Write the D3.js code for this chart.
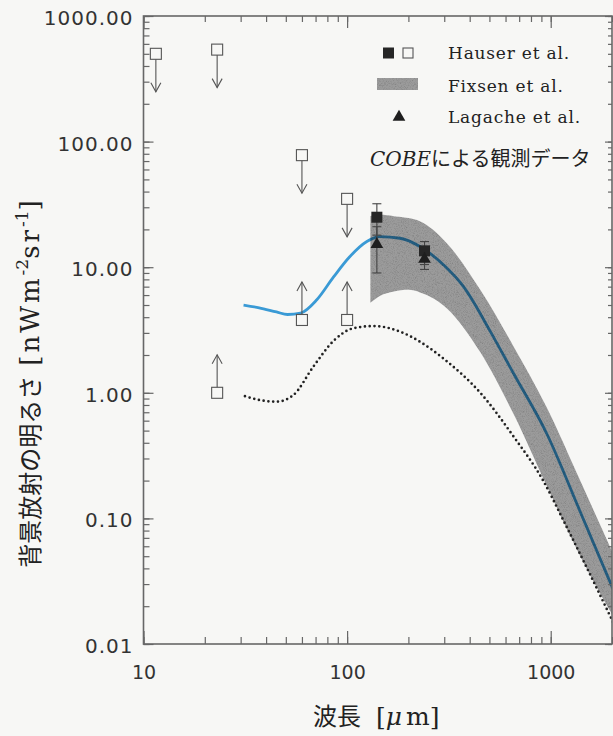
<!DOCTYPE html>
<html lang="ja">
<head>
<meta charset="utf-8" />
<title>背景放射の明るさ</title>
<script src="https://cdn.jsdelivr.net/npm/d3@7"></script>
<style>
  html, body { margin: 0; padding: 0; background: #f7f7f5; }
  svg { display: block; }
</style>
</head>
<body>
<svg id="chart" width="613" height="736"></svg>
<script>
// ---- data (wavelength in μm, brightness in nW m^-2 sr^-1)
const xTickValues = [10, 100, 1000];
const yTickValues = [0.01, 0.1, 1, 10, 100, 1000];

// Hauser et al. open squares: upper limits (arrow down) and lower limits (arrow up)
const upperLimits = [[11.5, 500], [23, 540], [60, 78], [100, 35]];
const lowerLimits = [[23, 1.0], [60, 3.8], [100, 3.8]];
// detections: [wavelength, value, low, high]
const hauserPoints = [[140, 25, 18, 32], [240, 13.5, 10.5, 16]];
const lagachePoints = [[140, 15.5, 9, 21], [240, 11.8, 9.6, 14]];

// Fixsen et al. band (upper / lower edges)
const bandWave  = [130, 145, 170, 200, 228, 309, 451, 656, 958, 1396, 2100];
const bandUpper = [25.6, 26.1, 25.5, 24.6, 23.2, 15.5, 6.6, 2.35, 0.76, 0.2, 0.046];
const bandLower = [5.2, 5.9, 6.4, 6.6, 6.3, 4.7, 2.1, 0.68, 0.18, 0.05, 0.015];

// blue model line
const blueWave  = [31, 37, 45, 51, 59, 71, 86, 103, 125, 145, 182, 228, 300, 373, 504, 656, 958, 1396, 2100];
const blueValue = [5.0, 4.75, 4.4, 4.2, 4.3, 5.5, 8.4, 12.1, 16.0, 17.5, 17.0, 14.6, 10.3, 7.0, 3.1, 1.43, 0.47, 0.113, 0.0238];

// dotted model line
const dotWave  = [31.5, 38, 45, 54.5, 68, 86, 107, 135, 182, 228, 300, 451, 656, 918, 1152, 2100];
const dotValue = [0.94, 0.87, 0.85, 0.96, 1.6, 2.6, 3.26, 3.4, 3.07, 2.55, 1.85, 1.0, 0.45, 0.2, 0.097, 0.0132];

const legendLabels = ["Hauser et al.", "Fixsen et al.", "Lagache et al."];

// ---- layout
const svg = d3.select("#chart");
const plot = { left: 143.5, right: 612, top: 16, bottom: 644 };

const x = d3.scaleLog().domain([10, 2000]).range([plot.left, plot.right]);
const y = d3.scaleLog().domain([0.01, 1000]).range([plot.bottom, plot.top]);

const axisColor = "#676767";
const numFont = "DejaVu Sans, sans-serif";
const serifFont = "DejaVu Serif, serif";
const jpFont = "Noto Sans CJK JP, sans-serif";
const bandColor = "#9b9b9b";

const defs = svg.append("defs");
defs.append("clipPath").attr("id", "clip")
  .append("rect")
  .attr("x", plot.left).attr("y", plot.top)
  .attr("width", plot.right - plot.left).attr("height", plot.bottom - plot.top);

// grainy print texture for the band
const grain = defs.append("filter").attr("id", "grain")
  .attr("x", 0).attr("y", 0).attr("width", 1).attr("height", 1);
grain.append("feTurbulence").attr("type", "fractalNoise")
  .attr("baseFrequency", 1.1).attr("numOctaves", 2).attr("seed", 4).attr("result", "noise");
grain.append("feColorMatrix").attr("in", "noise").attr("type", "matrix")
  .attr("values", "0.5 0.5 0 0 0.45  0.5 0.5 0 0 0.45  0.5 0.5 0 0 0.45  0 0 0 0 1")
  .attr("result", "gray");
grain.append("feComposite").attr("in", "gray").attr("in2", "SourceGraphic")
  .attr("operator", "in").attr("result", "grayIn");
grain.append("feBlend").attr("in", "SourceGraphic").attr("in2", "grayIn").attr("mode", "multiply");

const g = svg.append("g").attr("clip-path", "url(#clip)");

// Fixsen band
const band = bandWave.map((w, i) => ({ w, hi: bandUpper[i], lo: bandLower[i] }));
g.append("path")
  .datum(band)
  .attr("d", d3.area()
    .x(d => x(d.w))
    .y0(d => y(d.lo))
    .y1(d => y(d.hi))
    .curve(d3.curveMonotoneX))
  .attr("fill", bandColor)
  .attr("filter", "url(#grain)");

// dotted line
const dots = dotWave.map((w, i) => [w, dotValue[i]]);
g.append("path")
  .datum(dots)
  .attr("d", d3.line().x(d => x(d[0])).y(d => y(d[1])).curve(d3.curveMonotoneX))
  .attr("fill", "none")
  .attr("stroke", "#222")
  .attr("stroke-width", 2.7)
  .attr("stroke-linecap", "round")
  .attr("stroke-dasharray", "0 4.8");

// blue line
const blue = blueWave.map((w, i) => [w, blueValue[i]]);
g.append("path")
  .datum(blue)
  .attr("d", d3.line().x(d => x(d[0])).y(d => y(d[1])).curve(d3.curveMonotoneX))
  .attr("fill", "none")
  .attr("stroke", "#3a9ad5")
  .attr("stroke-width", 2.8)
  .style("mix-blend-mode", "multiply");

// ---- axes (ticks point inward)
const xAll = x.ticks();
const yAll = y.ticks();
const isDecade = v => Math.abs(Math.log10(v) - Math.round(Math.log10(v))) < 1e-6;
const xMajor = xAll.filter(isDecade);
const yMajor = yAll.filter(isDecade);

function styleAxis(sel) {
  sel.select(".domain").remove();
  sel.selectAll("line").attr("stroke", axisColor).attr("stroke-width", 1.2);
}

// bottom
svg.append("g").attr("transform", `translate(0,${plot.bottom})`)
  .call(d3.axisBottom(x).tickValues(xAll).tickSize(-7).tickFormat(""))
  .call(styleAxis);
svg.append("g").attr("transform", `translate(0,${plot.bottom})`)
  .call(d3.axisBottom(x).tickValues(xTickValues).tickSize(-13).tickPadding(22).tickFormat(d3.format("d")))
  .call(styleAxis)
  .call(s => s.selectAll("text")
    .attr("font-family", numFont).attr("font-size", 19).attr("fill", "#333"));

// top
svg.append("g").attr("transform", `translate(0,${plot.top})`)
  .call(d3.axisTop(x).tickValues(xAll).tickSize(-6).tickFormat(""))
  .call(styleAxis);
svg.append("g").attr("transform", `translate(0,${plot.top})`)
  .call(d3.axisTop(x).tickValues(xMajor).tickSize(-12).tickFormat(""))
  .call(styleAxis);

// left
svg.append("g").attr("transform", `translate(${plot.left},0)`)
  .call(d3.axisLeft(y).tickValues(yAll).tickSize(-6).tickFormat(""))
  .call(styleAxis);
svg.append("g").attr("transform", `translate(${plot.left},0)`)
  .call(d3.axisLeft(y).tickValues(yTickValues).tickSize(-10).tickPadding(10).tickFormat(d3.format(".2f")))
  .call(styleAxis)
  .call(s => s.selectAll("text")
    .attr("font-family", numFont).attr("font-size", 20).attr("letter-spacing", 1)
    .attr("dy", "0.42em").attr("fill", "#333"));

// right
svg.append("g").attr("transform", `translate(${plot.right},0)`)
  .call(d3.axisRight(y).tickValues(yAll).tickSize(-4).tickFormat(""))
  .call(styleAxis);
svg.append("g").attr("transform", `translate(${plot.right},0)`)
  .call(d3.axisRight(y).tickValues(yMajor).tickSize(-7).tickFormat(""))
  .call(styleAxis);

// frame
svg.append("rect")
  .attr("x", plot.left).attr("y", plot.top)
  .attr("width", plot.right - plot.left).attr("height", plot.bottom - plot.top)
  .attr("fill", "none").attr("stroke", axisColor).attr("stroke-width", 1.6);

// ---- markers
const markStroke = "#555";
const sq = 11;
const arrowLen = 38;

function arrow(sel, dir) {
  // dir = +1 pointing down, -1 pointing up
  sel.append("line")
    .attr("x1", d => x(d[0])).attr("x2", d => x(d[0]))
    .attr("y1", d => y(d[1]) + dir * sq / 2)
    .attr("y2", d => y(d[1]) + dir * arrowLen)
    .attr("stroke", markStroke).attr("stroke-width", 1.1);
  sel.append("path")
    .attr("d", d => {
      const cx = x(d[0]), ty = y(d[1]) + dir * arrowLen;
      return `M${cx - 5},${ty - dir * 9}L${cx},${ty}L${cx + 5},${ty - dir * 9}`;
    })
    .attr("fill", "none").attr("stroke", markStroke).attr("stroke-width", 1.1);
  sel.append("rect")
    .attr("x", d => x(d[0]) - sq / 2).attr("y", d => y(d[1]) - sq / 2)
    .attr("width", sq).attr("height", sq)
    .attr("fill", "none").attr("stroke", markStroke).attr("stroke-width", 1.1);
}

svg.append("g").selectAll("g").data(upperLimits).join("g").call(arrow, 1);
svg.append("g").selectAll("g").data(lowerLimits).join("g").call(arrow, -1);

// error bars
function errorBars(sel) {
  sel.append("line")
    .attr("x1", d => x(d[0])).attr("x2", d => x(d[0]))
    .attr("y1", d => y(d[2])).attr("y2", d => y(d[3]))
    .attr("stroke", "#444").attr("stroke-width", 1.1);
  [2, 3].forEach(k => sel.append("line")
    .attr("x1", d => x(d[0]) - 4.5).attr("x2", d => x(d[0]) + 4.5)
    .attr("y1", d => y(d[k])).attr("y2", d => y(d[k]))
    .attr("stroke", "#444").attr("stroke-width", 1.1));
}
svg.append("g").selectAll("g").data(hauserPoints).join("g").call(errorBars);
svg.append("g").selectAll("g").data(lagachePoints).join("g").call(errorBars);

const triangle = d3.symbol().type(d3.symbolTriangle).size(70);

svg.append("g").selectAll("rect").data(hauserPoints).join("rect")
  .attr("x", d => x(d[0]) - sq / 2).attr("y", d => y(d[1]) - sq / 2)
  .attr("width", sq).attr("height", sq)
  .attr("fill", "#262626");

svg.append("g").selectAll("path").data(lagachePoints).join("path")
  .attr("transform", d => `translate(${x(d[0])},${y(d[1]) + 1})`)
  .attr("d", triangle)
  .attr("fill", "#1e1e1e");

// ---- legend
const legend = svg.append("g");
const legendX = 448;
const legendRows = [53, 86, 117];

legend.append("rect").attr("x", 383).attr("y", legendRows[0] - 5.5)
  .attr("width", 11).attr("height", 11).attr("fill", "#262626");
legend.append("rect").attr("x", 403).attr("y", legendRows[0] - 5)
  .attr("width", 10).attr("height", 10)
  .attr("fill", "none").attr("stroke", markStroke).attr("stroke-width", 1.1);
legend.append("rect").attr("x", 377).attr("y", legendRows[1] - 8)
  .attr("width", 41).attr("height", 12).attr("fill", bandColor)
  .attr("filter", "url(#grain)");
legend.append("path")
  .attr("transform", `translate(399,${legendRows[2]})`)
  .attr("d", triangle).attr("fill", "#1e1e1e");

legend.selectAll("text.lab").data(legendLabels).join("text")
  .attr("class", "lab")
  .attr("x", legendX)
  .attr("y", (d, i) => legendRows[i] + 6)
  .attr("font-family", serifFont)
  .attr("font-size", 17)
  .attr("letter-spacing", 0.8)
  .attr("fill", "#222")
  .text(d => d);

const cobe = legend.append("text")
  .attr("x", 370).attr("y", 166)
  .attr("font-size", 20).attr("fill", "#222");
cobe.append("tspan").attr("font-family", serifFont).attr("font-style", "italic").text("COBE");
cobe.append("tspan").attr("font-family", jpFont).text("による観測データ");

// ---- axis titles
const xTitle = svg.append("text")
  .attr("x", 313).attr("y", 725)
  .attr("font-size", 24).attr("fill", "#222");
xTitle.append("tspan").attr("font-family", jpFont).text("波長");
xTitle.append("tspan").attr("font-family", serifFont).attr("font-size", 25).attr("dx", 15).text("[");
xTitle.append("tspan").attr("font-family", serifFont).attr("font-size", 25).attr("font-style", "italic").text("μ");
xTitle.append("tspan").attr("font-family", serifFont).attr("font-size", 25).attr("dx", 4).text("m]");

const yTitle = svg.append("text")
  .attr("transform", "translate(39,384) rotate(-90)")
  .attr("text-anchor", "middle")
  .attr("font-size", 24).attr("fill", "#222");
yTitle.append("tspan").attr("font-family", jpFont).text("背景放射の明るさ");
yTitle.append("tspan").attr("font-family", serifFont).attr("font-size", 26).attr("dx", 10)
  .attr("letter-spacing", 3).text("[nWm");
yTitle.append("tspan").attr("font-family", serifFont).attr("font-size", 17).attr("dy", -11).text("-2");
yTitle.append("tspan").attr("font-family", serifFont).attr("font-size", 26).attr("dy", 11)
  .attr("letter-spacing", 3).text("sr");
yTitle.append("tspan").attr("font-family", serifFont).attr("font-size", 17).attr("dy", -11).text("-1");
yTitle.append("tspan").attr("font-family", serifFont).attr("font-size", 26).attr("dy", 11).text("]");
</script>
</body>
</html>
